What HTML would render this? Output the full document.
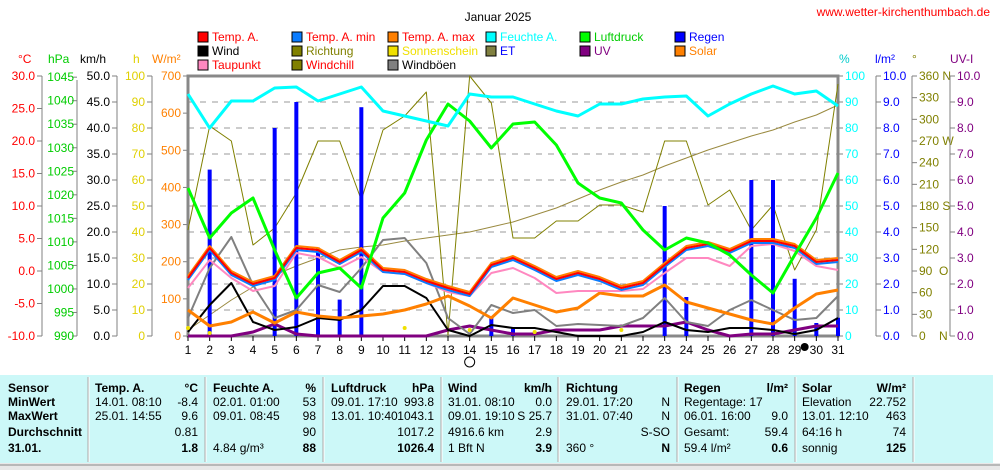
<!DOCTYPE html><html><head><meta charset="utf-8"><style>
body{margin:0;background:#fff;width:1000px;height:470px;overflow:hidden;font-family:"Liberation Sans",sans-serif}
svg{position:absolute;left:0;top:0}
text{font-family:"Liberation Sans",sans-serif;font-size:12px}
</style></head><body>
<svg id="s" width="1000" height="470" xmlns="http://www.w3.org/2000/svg"></svg>
<script>
const S=document.getElementById('s');let h='';
const X=d=>188+(d-1)*650/30;
const T=(x,y,t,c,a,sz,w)=>h+=`<text x="${x}" y="${y}" fill="${c}" text-anchor="${a||'start'}" font-size="${sz||12}" ${w?'font-weight="bold"':''}>${t}</text>`;
const L=(x1,y1,x2,y2,c,w,da)=>h+=`<line x1="${x1}" y1="${y1}" x2="${x2}" y2="${y2}" stroke="${c}" stroke-width="${w||1}" ${da?'stroke-dasharray="'+da+'"':''}/>`;
const P=(ys,c,w)=>h+=`<polyline fill="none" stroke="${c}" stroke-width="${w}" stroke-linejoin="round" points="${ys.map((y,i)=>X(i+1)+','+y).join(' ')}"/>`;
T(498,21,'Januar 2025','#000','middle',15);
T(990,16,'www.wetter-kirchenthumbach.de','#f00','end',11);
const lg=[[198,37,'#f00','Temp. A.','#f00'],[292,37,'#0a7cff','Temp. A. min','#f00'],[388,37,'#ff8000','Temp. A. max','#f00'],[486,37,'#0ff','Feuchte A.','#0ff'],[580,37,'#0f0','Luftdruck','#0c0'],[675,37,'#00f','Regen','#00f'],
[198,51,'#000','Wind','#000'],[292,51,'#808000','Richtung','#808000'],[388,51,'#f0e000','Sonnenschein','#f0e000'],[486,51,'#808040','ET','#00f'],[580,51,'#800080','UV','#800080'],[675,51,'#ff8000','Solar','#ff8000'],
[198,65,'#ff88c0','Taupunkt','#f00'],[292,65,'#808000','Windchill','#f00'],[388,65,'#808080','Windböen','#000']];
lg.forEach(l=>{h+=`<rect x="${l[0]}" y="${l[1]-5}" width="10" height="10" fill="${l[2]}" stroke="#000"/>`;T(l[0]+14,l[1]+4,l[3],l[4])});
T(18,63,'°C','#f00');T(48,63,'hPa','#0c0');T(80,63,'km/h','#000');T(133,63,'h','#e0d000');T(152,63,'W/m²','#ff8000');
T(839,63,'%','#0cc');T(875,63,'l/m²','#00f');T(912,63,'°','#808000');T(950,63,'UV-I','#800080');
const Y=f=>336-f*260;
[[42,'#f00',v=>(-10+v*5).toFixed(1),8],[117,'#000',v=>(v*5).toFixed(1),10],[152,'#e0d000',v=>v*10,10],[188,'#ff8000',v=>v*100,7]].forEach((a,k)=>{
 L(a[0],76,a[0],336,'#808080');for(let i=0;i<=a[3];i++){let y=Y(i/a[3]);L(a[0]-5,y,a[0],y,'#808080');T(a[0]-7,y+4,a[2](i),a[1],'end')}});
L(77,80,77,336,'#808080');for(let p=990;p<=1045;p+=5){let y=336-(p-990)*4.706;L(72,y,77,y,'#808080');T(74,y+4,p,'#0c0','end')}
[[838,'#0ff',i=>i*10,0],[876,'#00f',i=>i.toFixed(1),1],[912,'#808000',i=>i*30,1],[950,'#800080',i=>i.toFixed(1),1]].forEach((a,k)=>{
 L(a[0],76,a[0],336,'#808080');let n=k==2?12:10;for(let i=0;i<=n;i++){let y=Y(i/n);L(a[0],y,a[0]+5,y,'#808080');
 let t=k==2?a[2](i)+(i==12?' N':i==9?' W':i==6?' S':i==3?'&#160;&#160;O':i==0?'&#160;&#160;&#160;&#160;N':''):a[2](i);T(a[0]+7,y+4,t,a[1])}});
for(let i=1;i<10;i++)L(188,Y(i/10),838,Y(i/10),'#999',1,'6,6');
h+=`<rect x="188" y="76" width="650" height="260" fill="none" stroke="#888" stroke-width="3"/>`;
for(let d=1;d<=31;d++){L(X(d),336,X(d),341,'#000');T(X(d),354,d,'#000','middle')}
h+=`<circle cx="${X(14)}" cy="362" r="5" fill="#fff" stroke="#000"/><circle cx="${X(29)+10}" cy="347" r="4" fill="#000"/>`;
P([330,315,300,287,275,266,258,250,247,245,241,238,235,232,227,222,215,208,199,190,182,175,166,158,150,143,136,130,122,115,105],'#9a8a40',1);
P([230,126,141,245,228,193,141,141,200,130,116,92,335,76,103,238,238,221,221,205,205,212,141,141,205,190,230,205,270,230,84],'#808000',1);
[[2,6.4],[5,8],[6,9],[7,3.4],[8,1.4],[9,8.8],[15,0.7],[16,0.3],[23,5],[24,1.5],[27,6],[28,6],[29,2.2],[30,0.5],[31,0.7]].forEach(r=>h+=`<rect x="${X(r[0])-2}" y="${336-r[1]*26}" width="4" height="${r[1]*26}" fill="#00f"/>`);
P([336,336,336,332,324,334,336,336,336,336,336,336,330,326,330,334,334,330,330,330,326,326,326,322,330,336,334,334,330,326,326],'#800080',3);
P([318,268,237,285,318,310,285,292,268,240,238,263,318,334,305,313,310,326,324,325,326,318,298,322,326,310,300,310,320,318,296],'#808080',2);
P([332,305,283,322,330,327,318,320,310,286,286,298,330,336,325,328,328,332,336,336,336,332,322,330,332,328,328,330,334,330,318],'#000',2);
P([310,326,322,312,323,312,316,318,316,314,310,304,296,306,318,298,305,312,308,293,296,296,285,302,308,314,320,324,308,294,290],'#ff8000',3);
P([288,260,278,291,286,253,257,268,257,272,274,283,292,296,273,268,278,293,291,291,291,289,273,258,258,266,246,244,251,266,270],'#ff88c0',2);
const tA=[278,248,273,284,278,248,250,262,250,270,272,281,288,294,265,258,268,279,273,279,288,283,265,248,244,251,241,241,246,262,260];
P(tA.map(v=>v-2),'#ff8000',2);P(tA.map(v=>v+2),'#0a7cff',2);P(tA,'#f00',2);
P([188,238,213,198,250,298,273,268,288,218,193,140,104,121,148,124,122,145,183,198,203,230,250,238,243,255,275,293,255,218,173],'#0f0',3);
P([94,128,101,101,88,87,101,94,87,111,116,121,126,94,97,97,104,111,116,104,104,99,97,96,116,104,94,86,94,91,106],'#0ff',3);
[[1,328],[2,333],[11,328],[14,330],[17,332],[21,330]].forEach(p=>h+=`<circle cx="${X(p[0])}" cy="${p[1]}" r="2" fill="#f0e000"/>`);
h+=`<rect x="0" y="375" width="993" height="88" fill="#ccf8f8"/><rect x="0" y="463" width="1000" height="7" fill="#e8e8e8"/><line x1="0" y1="465" x2="1000" y2="465" stroke="#888"/>`;
[88,205,323,441,558,677,795,913].forEach(x=>{L(x,377,x,462,'#aaa',1);L(x+1,377,x+1,462,'#fff',1)});
const rows=[392,406,420,436,452];
const col=(x,arr,bold,anchor)=>arr.forEach((t,i)=>t&&T(x,rows[i],t,'#000',anchor||'start',11,bold||(i==4&&anchor=='end')));
col(8,['Sensor','MinWert','MaxWert','Durchschnitt','31.01.'],1);
col(95,['Temp. A.','','','',''],1);col(198,['°C','','','',''],1,'end');col(95,['','14.01.  08:10','25.01.  14:55','',''],0);col(198,['','-8.4','9.6','0.81','1.8'],0,'end');
col(213,['Feuchte A.','','','',''],1);col(316,['%','','','',''],1,'end');col(213,['','02.01.  01:00','09.01.  08:45','',' 4.84 g/m³'],0);col(316,['','53','98','90','88'],0,'end');
col(331,['Luftdruck','','','',''],1);col(434,['hPa','','','',''],1,'end');col(331,['','09.01.  17:10','13.01.  10:40','',''],0);col(434,['','993.8','1043.1','1017.2','1026.4'],0,'end');
col(448,['Wind','','','',''],1);col(552,['km/h','','','',''],1,'end');col(448,['','31.01.  08:10','09.01.  19:10','4916.6 km',' 1 Bft N'],0);col(552,['','0.0','S 25.7','2.9','3.9'],0,'end');
col(566,['Richtung','','','',''],1);col(566,['','29.01.  17:20','31.01.  07:40','',' 360 °'],0);col(670,['','N','N','S-SO','N'],0,'end');
col(684,['Regen','','','',''],1);col(788,['l/m²','','','',''],1,'end');col(684,['','Regentage: 17','06.01.  16:00','Gesamt:',' 59.4 l/m²'],0);col(788,['','','9.0','59.4','0.6'],0,'end');
col(802,['Solar','','','',''],1);col(906,['W/m²','','','',''],1,'end');col(802,['','Elevation','13.01.  12:10','64:16 h','sonnig'],0);col(906,['','22.752','463','74','125'],0,'end');
S.innerHTML=h;
</script></body></html>
